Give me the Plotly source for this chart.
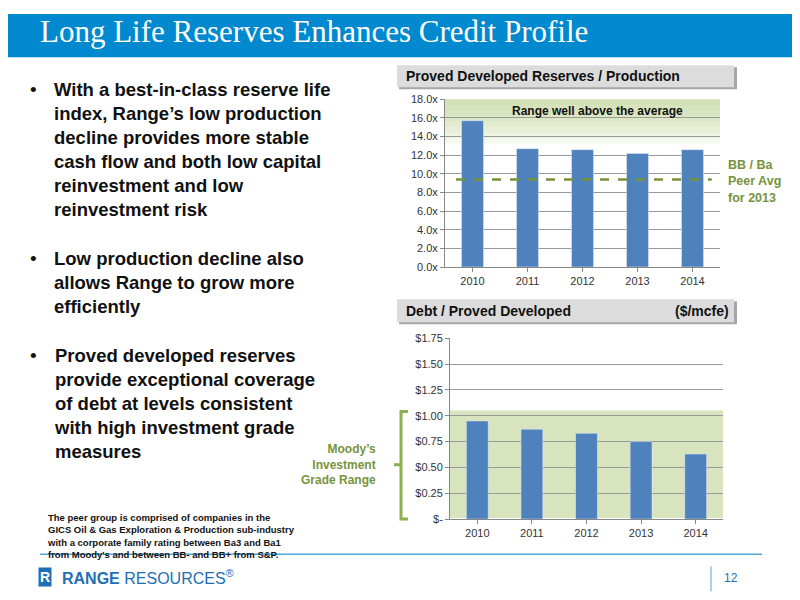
import plotly.graph_objects as go
from plotly.subplots import make_subplots

years = ["2010", "2011", "2012", "2013", "2014"]
reserve_life = [15.7, 12.7, 12.6, 12.2, 12.6]
peer_avg = 9.4
debt_per_pd = [0.95, 0.87, 0.83, 0.75, 0.63]
debt_ticks = [0, 0.25, 0.5, 0.75, 1.0, 1.25, 1.5, 1.75]
debt_ticktext = ["$-", "$0.25", "$0.50", "$0.75", "$1.00", "$1.25", "$1.50", "$1.75"]
invest_grade_top = 1.05

bullets = [
    "With a best-in-class reserve life<br>index, Range’s low production<br>decline provides more stable<br>cash flow and both low capital<br>reinvestment and low<br>reinvestment risk",
    "Low production decline also<br>allows Range to grow more<br>efficiently",
    "Proved developed reserves<br>provide exceptional coverage<br>of debt at levels consistent<br>with high investment grade<br>measures",
]

blue = "#0089CF"
bar_blue = "#4F81BD"
green = "#77933C"
W, H = 800, 600

# map slide pixel positions to paper coords (page draws the figure slightly offset)
def px_x(v):
    return (v - 8) / W

def px_y(v):
    return 1 - ((v - 15) / 0.976) / H

fig = make_subplots(rows=2, cols=1)
fig.add_trace(go.Bar(x=years, y=reserve_life, marker_color=bar_blue, width=0.4), row=1, col=1)
fig.add_trace(go.Bar(x=years, y=debt_per_pd, marker_color=bar_blue, width=0.4), row=2, col=1)

ax = dict(showline=True, linecolor="#888", ticks="outside", ticklen=4, tickcolor="#888",
          tickfont=dict(family="Liberation Sans", size=11, color="#333"), fixedrange=True)
fig.update_xaxes(**ax, showgrid=False)
fig.update_yaxes(**ax, showgrid=True, gridcolor="#999", gridwidth=1)
fig.update_layout(
    xaxis=dict(domain=[px_x(445), px_x(720)]),
    yaxis=dict(domain=[px_y(267), px_y(100)], range=[0, 18], dtick=2, tickformat=".1f", ticksuffix="x"),
    xaxis2=dict(domain=[px_x(450), px_x(723)]),
    yaxis2=dict(domain=[px_y(518), px_y(338)], range=[0, 1.75], tickvals=debt_ticks, ticktext=debt_ticktext),
)

shapes = []
# header band
shapes.append(dict(type="rect", xref="paper", yref="paper", x0=0, x1=1, y0=px_y(58), y1=1,
                   fillcolor=blue, line_width=0, layer="below"))
# top chart gradient
steps = 8
for i in range(steps):
    shapes.append(dict(type="rect", xref="x domain", yref="y", x0=0, x1=1,
                       y0=18 - (i + 1) * 0.6, y1=18, fillcolor="#C5DBA0",
                       opacity=0.16, line_width=0, layer="below"))
# investment grade shading
shapes.append(dict(type="rect", xref="x2 domain", yref="y2", x0=0, x1=1, y0=0, y1=invest_grade_top,
                   fillcolor="#D7E4BD", line_width=0, layer="below"))
# peer avg line
shapes.append(dict(type="line", xref="x domain", yref="y", x0=0.04, x1=0.97, y0=peer_avg, y1=peer_avg,
                   line=dict(color=green, width=2.5, dash="dash")))
# chart title boxes
for y0, y1 in [(66, 88), (299, 322)]:
    shapes.append(dict(type="rect", xref="paper", yref="paper", x0=px_x(399), x1=px_x(737),
                       y0=px_y(y1 + 2), y1=px_y(y0 + 2), fillcolor="#A6A6A6", line_width=0))
    shapes.append(dict(type="rect", xref="paper", yref="paper", x0=px_x(397), x1=px_x(734),
                       y0=px_y(y1), y1=px_y(y0), fillcolor="#DCDCDC", line_width=0))
# bracket
yt, yb, ym = px_y(411), px_y(518), px_y(464)
shapes.append(dict(type="path", xref="paper", yref="paper",
                   path=f"M {px_x(408)} {yt} L {px_x(401)} {yt} L {px_x(401)} {yb} L {px_x(408)} {yb} "
                        f"M {px_x(401)} {ym} L {px_x(394)} {ym}",
                   line=dict(color="#8DB050", width=3)))
# footer lines
shapes.append(dict(type="line", xref="paper", yref="paper", x0=px_x(40), x1=px_x(762),
                   y0=px_y(553), y1=px_y(553), line=dict(color="#4FA8D8", width=1.5)))
shapes.append(dict(type="line", xref="paper", yref="paper", x0=px_x(711), x1=px_x(711),
                   y0=px_y(565), y1=px_y(590), line=dict(color="#4FA8D8", width=1)))

ann = []
ann.append(dict(text="Long Life Reserves Enhances Credit Profile", x=px_x(38), y=px_y(32),
                xanchor="left", yanchor="middle",
                font=dict(family="Liberation Serif", size=31, color="white")))
ann.append(dict(text="<b>Proved Developed Reserves / Production</b>", x=px_x(404), y=px_y(77),
                xanchor="left", yanchor="middle", font=dict(family="Liberation Sans", size=14, color="#111")))
ann.append(dict(text="<b>Debt / Proved Developed</b>", x=px_x(404), y=px_y(311),
                xanchor="left", yanchor="middle", font=dict(family="Liberation Sans", size=14, color="#111")))
ann.append(dict(text="<b>($/mcfe)</b>", x=px_x(731), y=px_y(311),
                xanchor="right", yanchor="middle", font=dict(family="Liberation Sans", size=14, color="#111")))
ann.append(dict(text="<b>Range well above the average</b>", x=px_x(597), y=px_y(112),
                xanchor="center", yanchor="middle", font=dict(family="Liberation Sans", size=12, color="#111")))
ann.append(dict(text="<b>BB / Ba<br>Peer Avg<br>for 2013</b>", x=px_x(726), y=px_y(182),
                xanchor="left", yanchor="middle", align="left",
                font=dict(family="Liberation Sans", size=12.5, color=green)))
ann.append(dict(text="<b>Moody’s<br>Investment<br>Grade Range</b>", x=px_x(378), y=px_y(464),
                xanchor="right", yanchor="middle", align="right",
                font=dict(family="Liberation Sans", size=12, color=green)))
for txt, top in zip(bullets, [78, 246, 343]):
    ann.append(dict(text="•", x=px_x(28), y=px_y(top), xanchor="left", yanchor="top",
                    font=dict(family="Liberation Sans", size=19, color="#111")))
    ann.append(dict(text=f"<b>{txt}</b>", x=px_x(52), y=px_y(top), xanchor="left", yanchor="top",
                    align="left", font=dict(family="Liberation Sans", size=18.5, color="#111")))
ann.append(dict(text="<b>The peer group is comprised of companies in the<br>GICS Oil & Gas Exploration & Production sub-industry"
                     "<br>with a corporate family rating between Ba3 and Ba1<br>from Moody's and between BB- and BB+ from S&P.</b>",
                x=px_x(45), y=px_y(509), xanchor="left", yanchor="top", align="left",
                font=dict(family="Liberation Sans Narrow, Liberation Sans", size=9.5, color="#111")))
ann.append(dict(text="<b>R</b>", x=px_x(38), y=px_y(576), xanchor="left", yanchor="middle",
                bgcolor="#1F6FB5", font=dict(family="Liberation Sans", size=14, color="white")))
ann.append(dict(text="<b>RANGE</b> RESOURCES<sup>®</sup>", x=px_x(60), y=px_y(576), xanchor="left", yanchor="middle",
                font=dict(family="Liberation Sans Narrow, Liberation Sans", size=16, color="#1F6FB5")))
ann.append(dict(text="12", x=px_x(722), y=px_y(577), xanchor="left", yanchor="middle",
                font=dict(family="Liberation Sans", size=12, color="#1F6FB5")))
for a in ann:
    a.update(xref="paper", yref="paper", showarrow=False)

fig.update_layout(width=W, height=H, margin=dict(l=0, r=0, t=0, b=0),
                  paper_bgcolor="white", plot_bgcolor="rgba(0,0,0,0)",
                  showlegend=False, shapes=shapes, annotations=ann)

fig.write_html("out.html")
